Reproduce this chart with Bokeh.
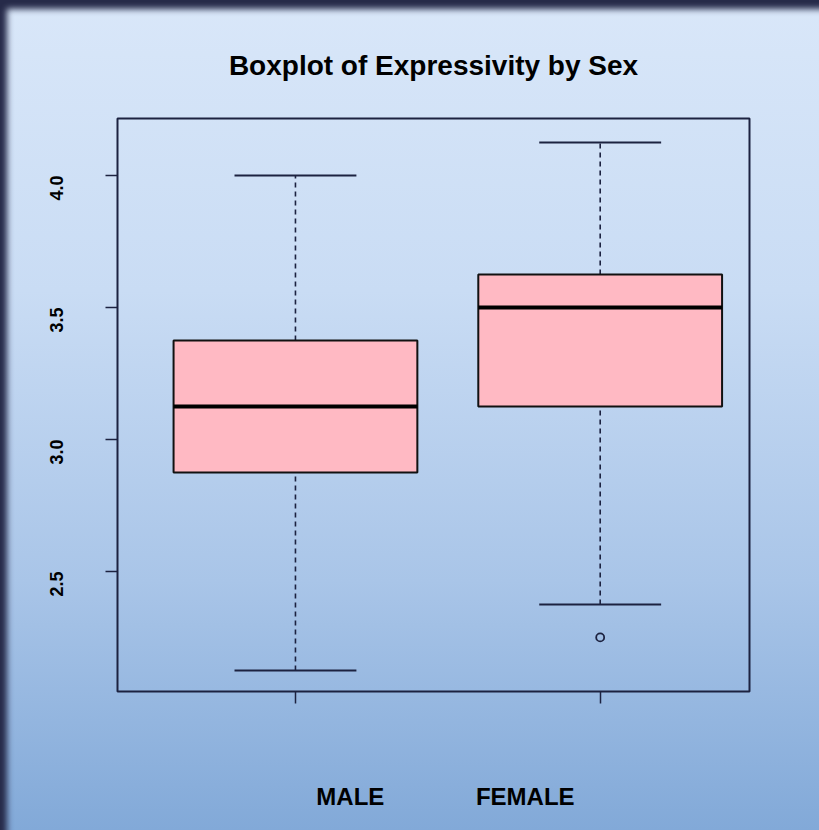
import math
from bokeh.plotting import figure
from bokeh.models import Range1d, FixedTicker, LinearAxis
from bokeh.models import ColumnDataSource
from bokeh.embed import file_html
from bokeh.resources import INLINE

# ---- data ----
categories = ["MALE", "FEMALE"]
positions = [1, 2]
lower_whisker = [2.125, 2.375]
q1 = [2.875, 3.125]
median = [3.125, 3.5]
q3 = [3.375, 3.625]
upper_whisker = [4.0, 4.125]
outlier_pos = [2]
outlier_value = [2.25]
y_ticks = [2.5, 3.0, 3.5, 4.0]

BOX_HALF = 0.4
CAP_HALF = 0.2
LABEL_X = [1.18, 1.754]   # where the category names sit (offset from ticks, as in the original)
DARK = "#1c2240"

p = figure(width=819, height=830, output_backend="svg", toolbar_location=None,
           x_range=Range1d(0.416, 2.49), y_range=Range1d(2.045, 4.216),
           min_border_left=117, min_border_right=70, min_border_top=118,
           min_border_bottom=139, title="Boxplot of Expressivity by Sex")

p.background_fill_color = None
p.border_fill_color = None
p.styles = {
    "background": "linear-gradient(180deg, #d9e7f9 0%, #c9dcf4 35%, #a9c5e8 70%, #82a9d8 100%)",
    "box-shadow": "inset 10px 12px 6px -3px #262a49",
}
p.grid.visible = False
p.outline_line_color = DARK
p.outline_line_width = 2

p.title.align = "center"
p.title.text_font = "Liberation Sans"
p.title.text_font_style = "bold"
p.title.text_font_size = "28px"
p.title.text_color = "#000000"
p.title.standoff = 76

# x axis: tick marks only
p.xaxis.ticker = FixedTicker(ticks=positions)
p.xaxis.major_label_overrides = {1: "", 2: ""}
p.xaxis.axis_line_color = None
p.xaxis.major_tick_out = 12
p.xaxis.major_tick_in = 0
p.xaxis.major_tick_line_color = DARK
p.xaxis.major_tick_line_width = 1.5
p.xaxis.minor_tick_line_color = None

# second axis below carrying the category names
cat_axis = LinearAxis(ticker=FixedTicker(ticks=LABEL_X),
                      major_label_overrides={x: c for x, c in zip(LABEL_X, categories)})
cat_axis.axis_line_color = None
cat_axis.major_tick_line_color = None
cat_axis.minor_tick_line_color = None
cat_axis.major_label_text_font = "Liberation Sans"
cat_axis.major_label_text_font_style = "bold"
cat_axis.major_label_text_font_size = "24px"
cat_axis.major_label_text_color = "#000000"
cat_axis.major_label_standoff = 73
p.add_layout(cat_axis, "below")

p.yaxis.ticker = FixedTicker(ticks=y_ticks)
p.yaxis.major_label_overrides = {t: f"{t:.1f}" for t in y_ticks}
p.yaxis.axis_line_color = None
p.yaxis.major_tick_out = 12
p.yaxis.major_tick_in = 0
p.yaxis.major_tick_line_color = DARK
p.yaxis.major_tick_line_width = 1.5
p.yaxis.minor_tick_line_color = None
p.yaxis.major_label_orientation = math.pi / 2
p.yaxis.major_label_text_font = "Liberation Sans"
p.yaxis.major_label_text_font_style = "bold"
p.yaxis.major_label_text_font_size = "18px"
p.yaxis.major_label_text_color = "#000000"
p.yaxis.major_label_standoff = 49

src = ColumnDataSource(dict(
    x=positions, lw=lower_whisker, q1=q1, med=median, q3=q3, uw=upper_whisker,
    left=[v - BOX_HALF for v in positions], right=[v + BOX_HALF for v in positions],
    cl=[v - CAP_HALF for v in positions], cr=[v + CAP_HALF for v in positions],
))

# whiskers
p.segment(x0="x", y0="q3", x1="x", y1="uw", source=src, line_color=DARK,
          line_width=1.6, line_dash="5 4")
p.segment(x0="x", y0="lw", x1="x", y1="q1", source=src, line_color=DARK,
          line_width=1.6, line_dash="5 4")
# caps
p.segment(x0="cl", y0="uw", x1="cr", y1="uw", source=src, line_color=DARK, line_width=2)
p.segment(x0="cl", y0="lw", x1="cr", y1="lw", source=src, line_color=DARK, line_width=2)
# boxes
p.quad(left="left", right="right", bottom="q1", top="q3", source=src,
       fill_color="#ffb9c3", line_color="#111111", line_width=2)
# medians
p.segment(x0="left", y0="med", x1="right", y1="med", source=src,
          line_color="#000000", line_width=4)
# outliers
p.scatter(x=outlier_pos, y=outlier_value, marker="circle", size=8,
          fill_color=None, line_color=DARK, line_width=1.8)

open("out.html", "w").write(file_html(p, INLINE))
